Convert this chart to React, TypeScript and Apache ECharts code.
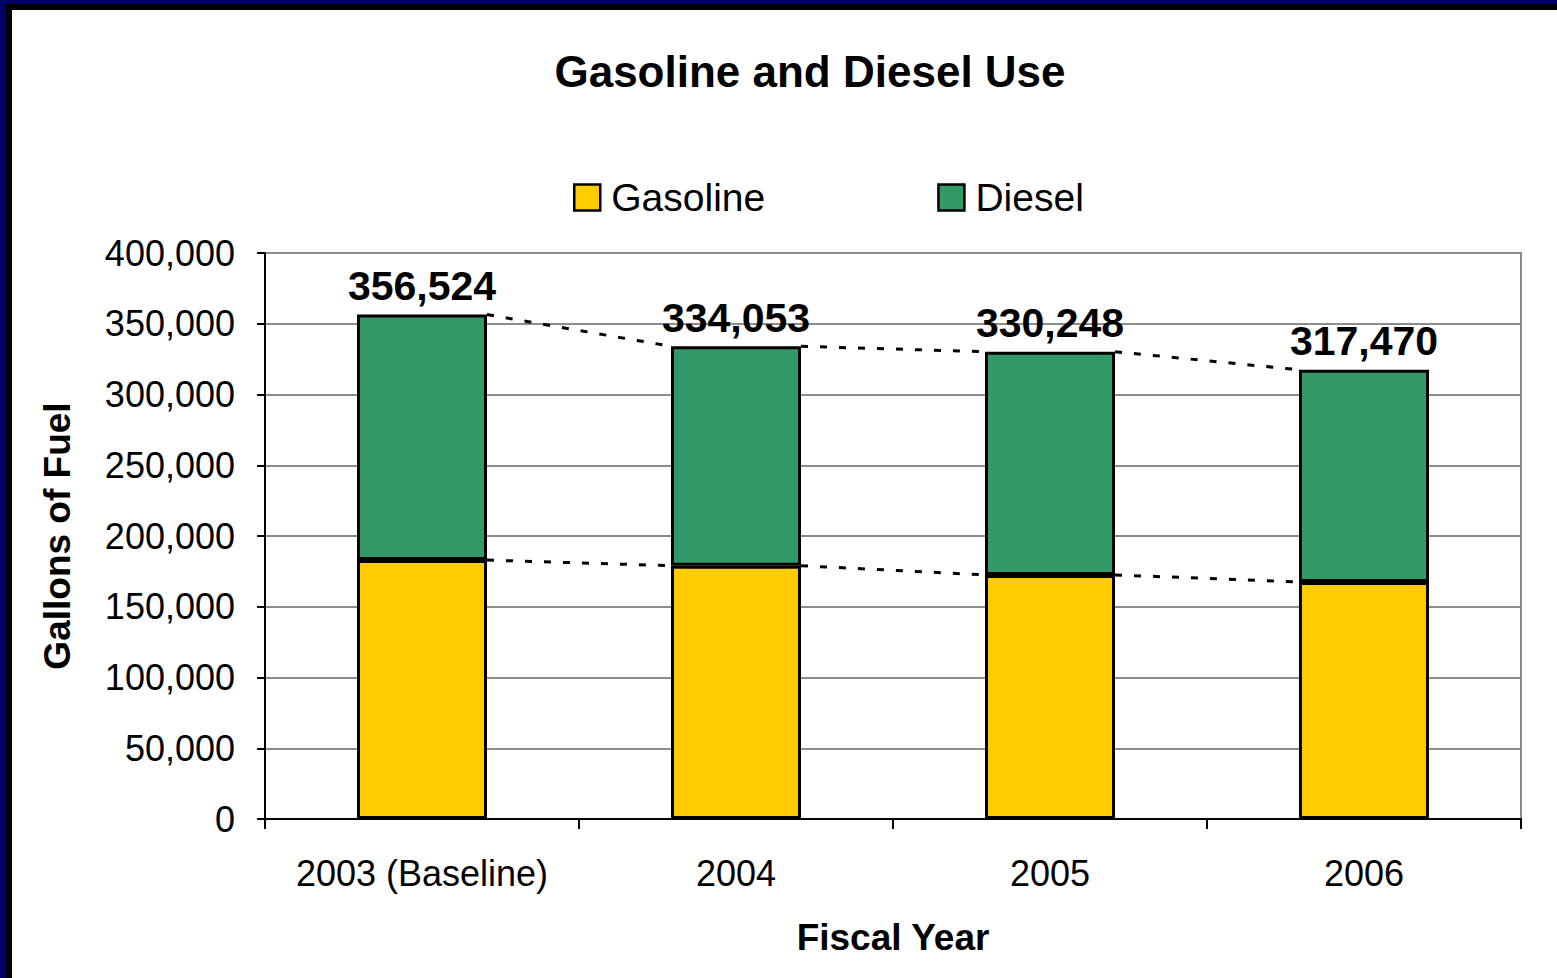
import React, { useEffect, useRef } from "react";
import * as echarts from "echarts";

const categories = ["2003 (Baseline)", "2004", "2005", "2006"];
const gasoline = [183000, 179000, 172500, 167500];
const diesel = [173524, 155053, 157748, 149970];
const totals = [356524, 334053, 330248, 317470];
const yTicks = { min: 0, max: 400000, interval: 50000 };

const FONT = "Liberation Sans, Arial, Helvetica, sans-serif";
const BAR_WIDTH = 130;

function fmt(v: number) {
  return v.toLocaleString("en-US");
}

export default function App() {
  const ref = useRef<HTMLDivElement>(null);
  useEffect(() => {
    if (!ref.current) return;
    const chart = echarts.init(ref.current, null, { renderer: "svg" });

    const connectorData = categories.slice(0, -1).map((_, i) => [
      i,
      totals[i],
      totals[i + 1],
      gasoline[i],
      gasoline[i + 1],
    ]);

    chart.setOption({
      animation: false,
      backgroundColor: "#ffffff",
      textStyle: { fontFamily: FONT },
      title: {
        text: "Gasoline and Diesel Use",
        left: 805,
        top: 44,
        textAlign: "center",
        textStyle: { fontFamily: FONT, fontSize: 44, fontWeight: "bold", color: "#000" },
      },
      legend: {
        data: ["Gasoline", "Diesel"],
        left: 568,
        top: 173,
        itemWidth: 26,
        itemHeight: 26,
        itemGap: 172,
        icon: "rect",
        itemStyle: { borderColor: "#000", borderWidth: 2.5 },
        textStyle: { fontFamily: FONT, fontSize: 39, color: "#000", padding: [0, 0, 0, 6] },
      },
      grid: {
        left: 265,
        right: 36,
        top: 253,
        bottom: 159,
        show: true,
        borderColor: "#8c8c8c",
        borderWidth: 2,
        backgroundColor: "transparent",
      },
      xAxis: {
        type: "category",
        data: categories,
        name: "Fiscal Year",
        nameLocation: "middle",
        nameGap: 100,
        nameTextStyle: { fontFamily: FONT, fontSize: 37, fontWeight: "bold", color: "#000" },
        axisLine: { lineStyle: { color: "#000", width: 2 } },
        axisTick: { show: true, interval: 0, length: 10, lineStyle: { color: "#000", width: 2 } },
        axisLabel: { interval: 0, fontFamily: FONT, fontSize: 36, color: "#000", margin: 36 },
      },
      yAxis: {
        type: "value",
        min: yTicks.min,
        max: yTicks.max,
        interval: yTicks.interval,
        name: "Gallons of Fuel",
        nameLocation: "middle",
        nameRotate: 90,
        nameGap: 189,
        nameTextStyle: { fontFamily: FONT, fontSize: 37, fontWeight: "bold", color: "#000" },
        axisLine: { show: true, lineStyle: { color: "#000", width: 2 } },
        axisTick: { show: true, length: 8, lineStyle: { color: "#000", width: 2 } },
        axisLabel: {
          fontFamily: FONT,
          fontSize: 36,
          color: "#000",
          margin: 30,
          formatter: (v: number) => fmt(v),
        },
        splitLine: { show: true, lineStyle: { color: "#8c8c8c", width: 2 } },
      },
      series: [
        {
          name: "Gasoline",
          type: "bar",
          stack: "fuel",
          data: gasoline,
          barWidth: BAR_WIDTH,
          itemStyle: { color: "#FFCC00", borderColor: "#000", borderWidth: 3 },
        },
        {
          name: "Diesel",
          type: "bar",
          stack: "fuel",
          data: diesel,
          barWidth: BAR_WIDTH,
          itemStyle: { color: "#339966", borderColor: "#000", borderWidth: 3 },
          label: {
            show: true,
            position: "top",
            distance: 8,
            fontFamily: FONT,
            fontSize: 41,
            fontWeight: "bold",
            color: "#000",
            formatter: (p: any) => fmt(totals[p.dataIndex]),
          },
        },
        {
          name: "connectors",
          type: "custom",
          silent: true,
          z: 5,
          data: connectorData,
          encode: { x: 0, y: 1 },
          renderItem: (params: any, api: any) => {
            const i = api.value(0);
            const half = BAR_WIDTH / 2;
            const a1 = api.coord([i, api.value(1)]);
            const a2 = api.coord([i + 1, api.value(2)]);
            const b1 = api.coord([i, api.value(3)]);
            const b2 = api.coord([i + 1, api.value(4)]);
            const style = { stroke: "#000", lineWidth: 3, lineDash: [7, 12] };
            return {
              type: "group",
              children: [
                {
                  type: "line",
                  shape: { x1: a1[0] + half, y1: a1[1], x2: a2[0] - half, y2: a2[1] },
                  style,
                },
                {
                  type: "line",
                  shape: { x1: b1[0] + half, y1: b1[1], x2: b2[0] - half, y2: b2[1] },
                  style,
                },
              ],
            };
          },
        },
      ],
    });
    return () => chart.dispose();
  }, []);

  return (
    <div style={{ position: "fixed", left: 0, top: 0, width: 1557, height: 978, background: "#fff" }}>
      <div ref={ref} style={{ position: "absolute", left: 0, top: 0, width: 1557, height: 978 }} />
      <div style={{ position: "absolute", left: 0, top: 0, width: 1557, height: 4, background: "#000066" }} />
      <div style={{ position: "absolute", left: 0, top: 0, width: 6, height: 978, background: "#000066" }} />
      <div style={{ position: "absolute", left: 6, top: 4, width: 1551, height: 6, background: "#000" }} />
      <div style={{ position: "absolute", left: 6, top: 4, width: 6, height: 974, background: "#000" }} />
    </div>
  );
}
